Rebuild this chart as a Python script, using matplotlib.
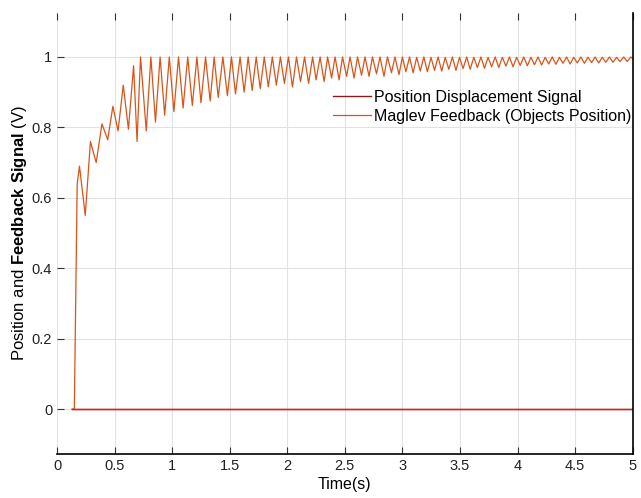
import matplotlib
matplotlib.use("Agg")
import matplotlib.pyplot as plt

plt.rcParams['font.family'] = ['Liberation Sans', 'DejaVu Sans']
plt.rcParams['mathtext.fontset'] = 'custom'
plt.rcParams['mathtext.rm'] = 'Liberation Sans'
plt.rcParams['mathtext.bf'] = 'Liberation Sans:bold'

# reference position signal (step held at zero)
pos_time = [0.13, 5.0]
pos_volt = [0.0, 0.0]

# maglev feedback: turning points of the measured response
fb_time = [0.13, 0.15, 0.175, 0.195, 0.245, 0.29, 0.34, 0.39, 0.44, 0.485, 0.53,
           0.575, 0.62, 0.665, 0.695, 0.725, 0.775, 0.815, 0.855, 0.895, 0.935,
           0.975, 1.015, 1.055, 1.095, 1.135, 1.175, 1.215, 1.25, 1.29, 1.33,
           1.365, 1.40, 1.44, 1.48, 1.515, 1.55, 1.59, 1.625, 1.66, 1.695,
           1.73, 1.765, 1.80, 1.835, 1.87, 1.905, 1.94, 1.975, 2.01, 2.045,
           2.08, 2.115, 2.15, 2.185, 2.22, 2.25, 2.285, 2.32, 2.35, 2.385,
           2.415, 2.45, 2.48, 2.515, 2.545, 2.58, 2.61, 2.645, 2.675, 2.71,
           2.74, 2.775, 2.805, 2.84, 2.87, 2.905, 2.935, 2.97, 3.0, 3.03,
           3.062, 3.093, 3.124, 3.155, 3.186, 3.217, 3.248, 3.279, 3.31, 3.341,
           3.372, 3.403, 3.434, 3.465, 3.496, 3.527, 3.558, 3.589, 3.62, 3.651,
           3.682, 3.713, 3.744, 3.775, 3.806, 3.837, 3.868, 3.899, 3.93, 3.961,
           3.992, 4.023, 4.054, 4.085, 4.116, 4.147, 4.178, 4.209, 4.24, 4.271,
           4.302, 4.333, 4.364, 4.395, 4.426, 4.457, 4.488, 4.519, 4.55, 4.581,
           4.612, 4.643, 4.674, 4.705, 4.736, 4.767, 4.798, 4.829, 4.86, 4.891,
           4.922, 4.953, 4.984, 5.0]
fb_volt = [0.0, 0.0, 0.64, 0.69, 0.55, 0.76, 0.70, 0.81, 0.765, 0.86, 0.79,
           0.92, 0.795, 0.975, 0.76, 1.0, 0.79, 1.0, 0.815, 1.0, 0.835,
           1.0, 0.845, 1.0, 0.855, 1.0, 0.862, 1.0, 0.87, 1.0, 0.875,
           1.0, 0.885, 1.0, 0.89, 1.0, 0.895, 1.0, 0.90, 1.0, 0.905,
           1.0, 0.91, 1.0, 0.915, 1.0, 0.92, 1.0, 0.925, 1.0, 0.915,
           1.0, 0.93, 1.0, 0.925, 1.0, 0.935, 1.0, 0.93, 1.0, 0.94,
           1.0, 0.935, 1.0, 0.945, 1.0, 0.94, 1.0, 0.948, 1.0, 0.945,
           1.0, 0.952, 1.0, 0.945, 1.0, 0.955, 1.0, 0.95, 1.0, 0.958,
           1.0, 0.955, 0.999, 0.96, 1.0, 0.958, 0.999, 0.962, 1.0, 0.96,
           0.999, 0.965, 1.0, 0.962, 0.999, 0.967, 1.0, 0.965, 0.999, 0.97,
           1.0, 0.968, 0.999, 0.972, 1.0, 0.97, 0.999, 0.974, 1.0, 0.972,
           0.999, 0.976, 1.0, 0.975, 0.999, 0.978, 1.0, 0.977, 0.999, 0.98,
           1.0, 0.979, 0.999, 0.982, 1.0, 0.98, 0.999, 0.983, 1.0, 0.982,
           0.999, 0.984, 1.0, 0.983, 0.999, 0.985, 1.0, 0.985, 0.999, 0.987,
           1.0, 0.987, 1.0, 0.995]

x_ticks = [0, 0.5, 1, 1.5, 2, 2.5, 3, 3.5, 4, 4.5, 5]
x_labels = ['0', '0.5', '1', '1.5', '2', '2.5', '3', '3.5', '4', '4.5', '5']
y_ticks = [0, 0.2, 0.4, 0.6, 0.8, 1]
y_labels = ['0', '0.2', '0.4', '0.6', '0.8', '1']

fig = plt.figure(figsize=(6.41, 4.98), dpi=100)
ax = fig.add_axes([0.089, 0.088, 0.898, 0.886])

ax.plot(pos_time, pos_volt, color='#C8282A', lw=1.0, label='Position Displacement Signal')
ax.plot(fb_time, fb_volt, color='#D9541A', lw=0.9, label='Maglev Feedback (Objects Position)')
# keep the reference line on top near zero
ax.plot(pos_time, pos_volt, color='#C8282A', lw=1.0)

ax.set_xlim(0, 5)
ax.set_ylim(-0.128, 1.125)
ax.set_xticks(x_ticks, x_labels)
ax.set_yticks(y_ticks, y_labels)
ax.grid(True, color='#e2e2e2', lw=0.8)
ax.set_axisbelow(True)

for side in ['left', 'top']:
    ax.spines[side].set_visible(False)
for side in ['bottom', 'right']:
    ax.spines[side].set_color('black')
    ax.spines[side].set_linewidth(1.2)

ax.tick_params(axis='both', direction='in', length=5, labelsize=10.5, colors='#333333',
               labelcolor='#222222', top=True, right=False)

ax.set_xlabel('Time(s)', fontsize=11.5, labelpad=3)
ax.set_ylabel(r'Position and $\mathbf{Feedback\ Signal}$ (V)', fontsize=12, labelpad=2)

leg = ax.legend(loc='upper left', bbox_to_anchor=(0.468, 0.84), frameon=False,
                fontsize=11.5, handlelength=2.4, handletextpad=0.15, borderaxespad=0,
                labelspacing=0.25)
leg.get_lines()[0].set_color('#8B1C1C')

fig.savefig('out.png', dpi=100)
